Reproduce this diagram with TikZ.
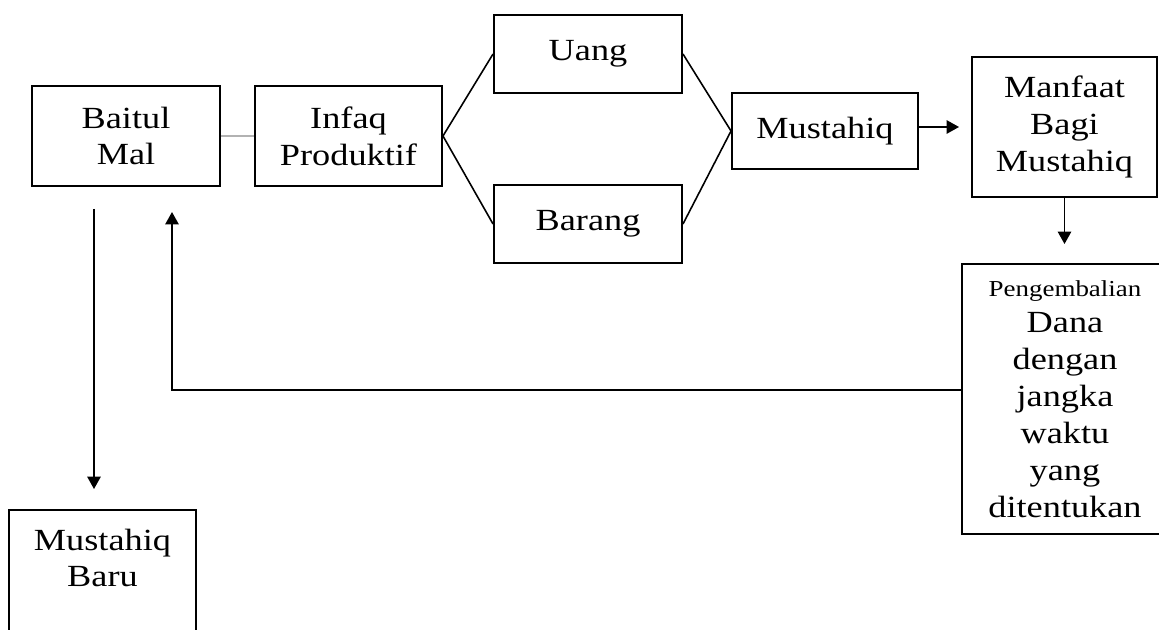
\documentclass[tikz,border=0pt]{standalone}
\usepackage{fontspec}
\setmainfont{Liberation Serif}[FakeStretch=1.18]
\usetikzlibrary{arrows.meta}

\begin{document}
\begin{tikzpicture}[
	kotak/.style={draw,line width=1.1pt,align=center,font=\fontsize{17.5}{21}\selectfont},
	garis/.style={line width=0.9pt},
	panah/.style={line width=1.1pt,-{Triangle[width=7.5pt,length=7pt]}}]
	\useasboundingbox (0,0) rectangle (23.18,12.58);
	% kotak-kotak
	\node[kotak,minimum width=3.76cm,minimum height=2cm] (mal) at (2.52,9.86) {Baitul\\Mal};
	\node[kotak,minimum width=3.74cm,minimum height=2cm] (infaq) at (6.97,9.86) {Infaq\\Produktif};
	\node[kotak,minimum width=3.76cm,minimum height=1.56cm] (uang) at (11.76,11.5) {Uang};
	\node[kotak,minimum width=3.76cm,minimum height=1.56cm] (barang) at (11.76,8.1) {Barang};
	\node[kotak,minimum width=3.72cm,minimum height=1.52cm] (mustahiq) at (16.5,9.96) {Mustahiq};
	\node[kotak,minimum width=3.7cm,minimum height=2.8cm] (manfaat) at (21.29,10.04) {Manfaat\\Bagi\\Mustahiq};
	\node[kotak,minimum width=4.12cm,minimum height=5.4cm] (kembali) at (21.3,4.6) {{\fontsize{13}{14}\selectfont Pengembalian}\\Dana\\dengan\\jangka\\waktu\\yang\\ditentukan};
	\node[kotak,minimum width=3.74cm,minimum height=3.4cm] (baru) at (2.05,0.68) {};
	\node[align=center,font=\fontsize{17.5}{21}\selectfont] (barutxt) at (2.05,1.42) {Mustahiq\\Baru};
	% garis penghubung
	\draw[line width=1.2pt,gray!60] (mal.east) -- (infaq.west);
	\draw[garis] (uang.west) -- (infaq.east) -- (barang.west);
	\draw[garis] (uang.east) -- (mustahiq.west) -- (barang.east);
	\draw[panah,shorten >=0.24cm] ([yshift=0.08cm]mustahiq.east) -- ([yshift=0.08cm]mustahiq.east -| manfaat.west);
	\draw[panah,shorten >=0.38cm] (manfaat.south) -- (manfaat.south |- kembali.north);
	\coordinate (balik) at (3.44,8.34);
	\draw[panah] ([yshift=0.18cm]kembali.west) -| (balik);
	\coordinate (turun) at (1.88,8.4);
	\draw[panah,shorten >=0.4cm] (turun) -- (turun |- baru.north);
\end{tikzpicture}
\end{document}
